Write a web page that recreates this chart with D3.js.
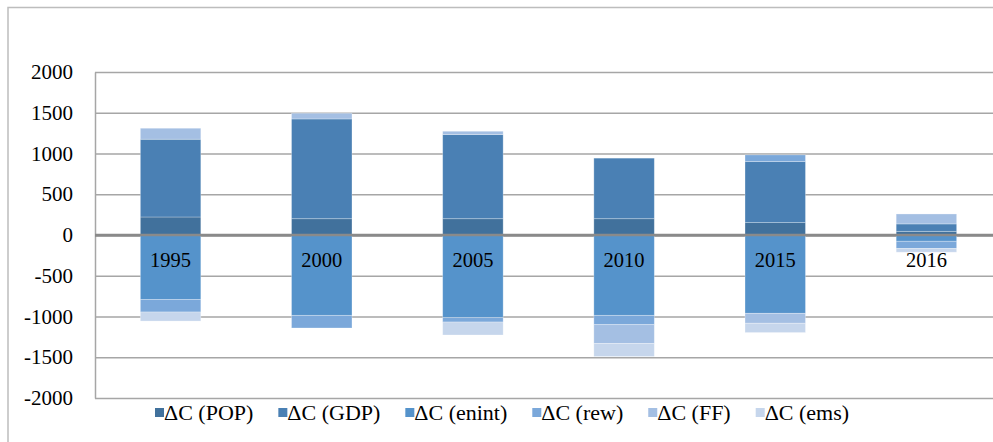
<!DOCTYPE html>
<html>
<head>
<meta charset="utf-8">
<script src="https://cdn.jsdelivr.net/npm/d3@7"></script>
<style>
  body { margin: 0; background: #fff; }
</style>
</head>
<body>
<div id="chart"></div>
<script>
// years on the category axis
var years = ["1995", "2000", "2005", "2010", "2015", "2016"];

// decomposition terms, same order as the legend
var seriesNames = ["ΔC (POP)", "ΔC (GDP)", "ΔC (enint)", "ΔC (rew)", "ΔC (FF)", "ΔC (ems)"];
var pop   = [221, 200, 200, 200, 152, 45];
var gdp   = [954, 1224, 1032, 743, 750, 91];
var enint = [-790, -986, -1014, -986, -961, -77];
var rew   = [-155, -155, -54, -114, 81, -89];
var ff    = [135, 70, 41, -232, -122, 122];
var ems   = [-111, 0, -159, -159, -114, -45];

var yTicks = [-2000, -1500, -1000, -500, 0, 500, 1000, 1500, 2000];

var colors = ["#41719c", "#4a80b4", "#5593cb", "#7ba8da", "#a4bfe3", "#c6d6ec"];

var serif = "'Liberation Serif', 'Times New Roman', Times, serif";

var width = 993, height = 442;
var x0 = 95, x1 = 1002, yTop = 72, yBot = 398;

var svg = d3.select("#chart").append("svg")
  .attr("width", width)
  .attr("height", height)
  .style("font-family", serif);

// outer chart border (cropped on the right and bottom)
svg.append("rect")
  .attr("x", 8).attr("y", 7.5)
  .attr("width", 1000).attr("height", 460)
  .attr("fill", "none")
  .attr("stroke", "#bdbdbd")
  .attr("stroke-width", 1.5);

var keys = ["pop", "gdp", "enint", "rew", "ff", "ems"];
var rows = years.map(function(yr, i) {
  return { year: yr, pop: pop[i], gdp: gdp[i], enint: enint[i], rew: rew[i], ff: ff[i], ems: ems[i] };
});

var x = d3.scaleBand()
  .domain(years)
  .range([x0, x1])
  .paddingInner(0.6)
  .paddingOuter(0.3);

var y = d3.scaleLinear()
  .domain([-2000, 2000])
  .range([yBot, yTop]);

// gridlines + tick labels
var yAxis = svg.append("g")
  .attr("transform", "translate(" + x0 + ",0)")
  .call(d3.axisLeft(y)
    .tickValues(yTicks)
    .tickFormat(function(d) { return String(d); })
    .tickSizeInner(-(x1 - x0))
    .tickSizeOuter(0)
    .tickPadding(22));

yAxis.attr("font-family", serif).attr("font-size", null);
yAxis.selectAll(".tick line")
  .attr("stroke", function(d) { return d === 0 ? "#8a8a8a" : "#a6a6a6"; })
  .attr("stroke-width", function(d) { return d === 0 ? 2.5 : 1.5; });
yAxis.select(".domain").attr("stroke", "#a6a6a6").attr("stroke-width", 1.5);
yAxis.selectAll(".tick text")
  .attr("fill", "#000")
  .style("font-family", serif)
  .style("font-size", "21px");

var stack = d3.stack().keys(keys).offset(d3.stackOffsetDiverging);
var layers = stack(rows);

svg.append("g").selectAll("g")
  .data(layers)
  .enter().append("g")
  .attr("fill", function(d, i) { return colors[i]; })
  .selectAll("rect")
  .data(function(d) { return d; })
  .enter().append("rect")
  .attr("x", function(d) { return x(d.data.year); })
  .attr("width", x.bandwidth())
  .attr("y", function(d) { return y(Math.max(d[0], d[1])); })
  .attr("height", function(d) { return Math.abs(y(d[0]) - y(d[1])); })
  .attr("stroke", "rgba(255,255,255,0.35)")
  .attr("stroke-width", 0.8);

// zero line redrawn over the bars
svg.append("line")
  .attr("x1", x0).attr("x2", x1)
  .attr("y1", y(0)).attr("y2", y(0))
  .attr("stroke", "#8a8a8a")
  .attr("stroke-width", 2.5);

// category labels sit just under the zero line
svg.append("g").selectAll("text")
  .data(years)
  .enter().append("text")
  .attr("x", function(d) { return x(d) + x.bandwidth() / 2; })
  .attr("y", y(0) + 32)
  .attr("text-anchor", "middle")
  .style("font-family", serif)
  .style("font-size", "20.5px")
  .text(function(d) { return d; });

// legend
var legend = svg.append("g").attr("transform", "translate(155,413)");
var lx = 0;
seriesNames.forEach(function(name, i) {
  var item = legend.append("g").attr("transform", "translate(" + lx + ",0)");
  item.append("rect")
    .attr("x", 0).attr("y", -5)
    .attr("width", 9).attr("height", 9)
    .attr("fill", colors[i]);
  var t = item.append("text")
    .attr("x", 9)
    .attr("y", 7)
    .style("font-family", serif)
    .style("font-size", "22px")
    .text(name);
  lx += 9 + t.node().getComputedTextLength() + 25;
});
</script>
</body>
</html>
